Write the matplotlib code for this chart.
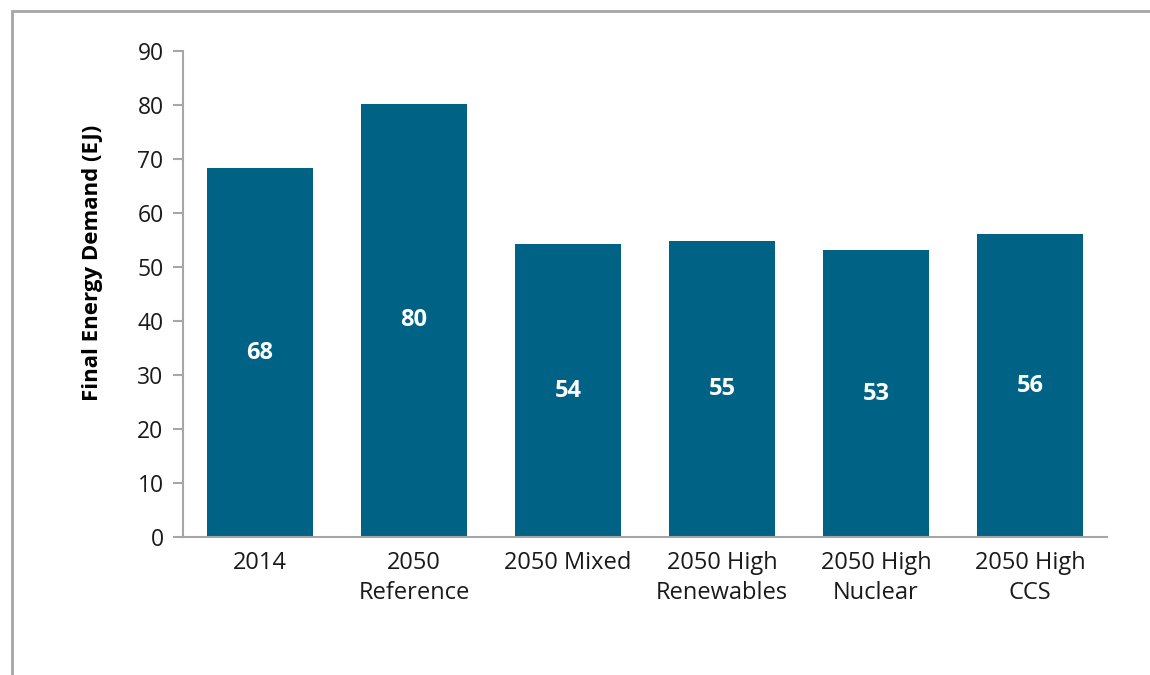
import numpy as np
import matplotlib.pyplot as plt
from matplotlib.patches import Rectangle

# scenario data (EJ)
categories = ["2014", "2050\nReference", "2050 Mixed", "2050 High\nRenewables",
              "2050 High\nNuclear", "2050 High\nCCS"]
demand = [68.3, 80.2, 54.2, 54.8, 53.1, 56.1]
labels = ["68", "80", "54", "55", "53", "56"]

bar_color = "#006385"
axis_gray = "#a6a6a6"

plt.rcParams['font.family'] = ['Open Sans', 'DejaVu Sans']

fig = plt.figure(figsize=(11.5, 6.75), dpi=100)

# outer frame (cut at right/bottom like the source page)
fig.add_artist(Rectangle((12 / 1150, -0.1), 1.2, 1 - 11 / 675 + 0.1,
                         transform=fig.transFigure, fill=False,
                         edgecolor=axis_gray, linewidth=2))

ax = fig.add_axes([183 / 1150, 1 - 537 / 675, (1107 - 183) / 1150, (537 - 51) / 675])

x = np.arange(len(categories))
bars = ax.bar(x, demand, width=0.69, color=bar_color)

for xi, v, lab in zip(x, demand, labels):
    ax.text(xi, v / 2, lab, ha='center', va='center', color='white',
            fontsize=17, fontweight='bold')

ax.set_xlim(-0.5, len(categories) - 0.5)
ax.set_ylim(0, 90)
ax.set_yticks(range(0, 91, 10))
ax.set_xticks(x)
ax.set_xticklabels(categories, fontsize=17, linespacing=1.35, color='#1a1a1a')
ax.tick_params(axis='x', length=0, pad=10)
ax.tick_params(axis='y', length=7, width=1.5, color=axis_gray, labelsize=16.5,
               pad=7, labelcolor='#1a1a1a')

for s in ['top', 'right']:
    ax.spines[s].set_visible(False)
for s in ['left', 'bottom']:
    ax.spines[s].set_color(axis_gray)
    ax.spines[s].set_linewidth(1.5)

ax.set_ylabel("Final Energy Demand (EJ)", fontsize=16, fontweight='bold', color='black')
ax.yaxis.set_label_coords(-0.087, 0.565)

fig.savefig("out.png", dpi=100)
